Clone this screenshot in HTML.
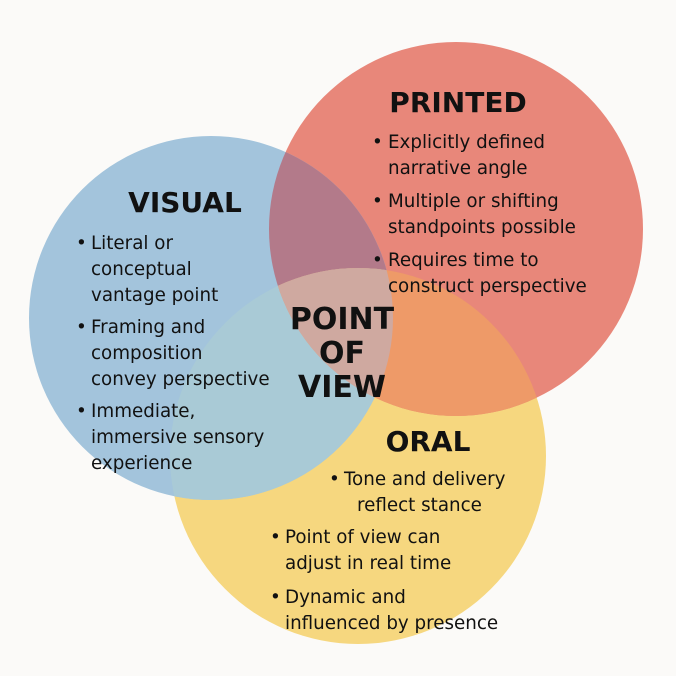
<!DOCTYPE html>
<html><head><meta charset="utf-8"><style>
html,body{margin:0;padding:0;background:#fbfaf8;}
svg{display:block}
text{font-family:"DejaVu Sans","Liberation Sans",sans-serif;fill:#111;}
.t{font-size:18.3px;}
.h{font-size:28px;font-weight:bold;}
</style></head><body>
<svg width="676" height="676" viewBox="0 0 676 676" xmlns="http://www.w3.org/2000/svg">
<defs>
<clipPath id="cb"><circle cx="211" cy="318" r="182"/></clipPath>
<clipPath id="cr"><circle cx="456" cy="229" r="187"/></clipPath>
<clipPath id="cy"><circle cx="358" cy="456" r="188"/></clipPath>
</defs>
<rect width="676" height="676" fill="#fbfaf8"/>
<circle cx="358" cy="456" r="188" fill="#f6d77f"/>
<circle cx="456" cy="229" r="187" fill="#e8877a"/>
<circle cx="211" cy="318" r="182" fill="#a3c4dc"/>
<g clip-path="url(#cb)"><circle cx="456" cy="229" r="187" fill="#b37a8a"/></g>
<g clip-path="url(#cb)"><circle cx="358" cy="456" r="188" fill="#a9cad6"/></g>
<g clip-path="url(#cr)"><circle cx="358" cy="456" r="188" fill="#ee9a68"/></g>
<g clip-path="url(#cb)"><g clip-path="url(#cr)"><circle cx="358" cy="456" r="188" fill="#cfa9a0"/></g></g>

<text class="h" x="185" y="212" text-anchor="middle">VISUAL</text>
<g class="t">
<text x="76" y="249">•</text><text x="91" y="249">Literal or</text>
<text x="91" y="275">conceptual</text><text x="91" y="301">vantage point</text>
<text x="76" y="333">•</text><text x="91" y="333">Framing and</text>
<text x="91" y="359">composition</text><text x="91" y="385">convey perspective</text>
<text x="76" y="417">•</text><text x="91" y="417">Immediate,</text>
<text x="91" y="443">immersive sensory</text><text x="91" y="469">experience</text>
</g>

<text class="h" x="458" y="112" text-anchor="middle">PRINTED</text>
<g class="t">
<text x="372" y="148">•</text><text x="388" y="148">Explicitly defined</text>
<text x="388" y="174">narrative angle</text>
<text x="372" y="207">•</text><text x="388" y="207">Multiple or shifting</text>
<text x="388" y="233">standpoints possible</text>
<text x="372" y="266">•</text><text x="388" y="266">Requires time to</text>
<text x="388" y="292">construct perspective</text>
</g>

<g class="h" style="font-size:30px">
<text x="342" y="329" text-anchor="middle">POINT</text>
<text x="342" y="363" text-anchor="middle">OF</text>
<text x="342" y="397" text-anchor="middle">VIEW</text>
</g>

<text class="h" x="428" y="451" text-anchor="middle">ORAL</text>
<g class="t">
<text x="329" y="485">•</text><text x="344" y="485">Tone and delivery</text>
<text x="357" y="511">reflect stance</text>
<text x="270" y="543">•</text><text x="285" y="543">Point of view can</text>
<text x="285" y="569">adjust in real time</text>
<text x="270" y="603">•</text><text x="285" y="603">Dynamic and</text>
<text x="285" y="629">influenced by presence</text>
</g>
</svg>
</body></html>
